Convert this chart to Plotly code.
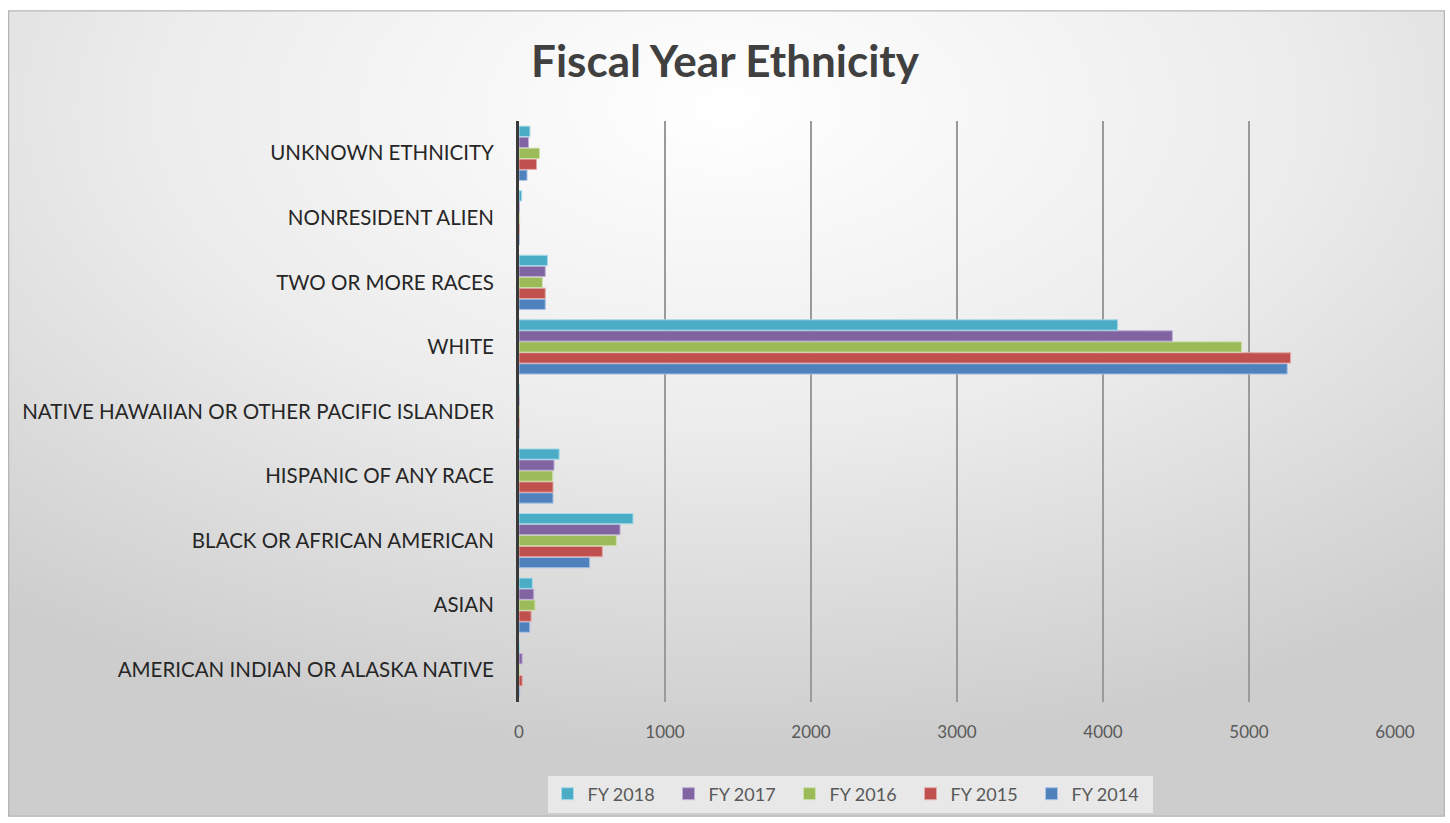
import base64
import plotly.graph_objects as go

categories = [
    "AMERICAN INDIAN OR ALASKA NATIVE",
    "ASIAN",
    "BLACK OR AFRICAN AMERICAN",
    "HISPANIC OF ANY RACE",
    "NATIVE HAWAIIAN OR OTHER PACIFIC ISLANDER",
    "WHITE",
    "TWO OR MORE RACES",
    "NONRESIDENT ALIEN",
    "UNKNOWN ETHNICITY",
]

fy2014 = [5, 74, 484, 233, 1, 5262, 180, 2, 55]
fy2015 = [22, 83, 571, 233, 1, 5285, 180, 3, 120]
fy2016 = [5, 110, 667, 231, 1, 4950, 160, 4, 140]
fy2017 = [22, 101, 692, 240, 1, 4475, 180, 3, 65]
fy2018 = [3, 92, 781, 275, 1, 4100, 195, 18, 75]

series_names = ["FY 2014", "FY 2015", "FY 2016", "FY 2017", "FY 2018"]
series_values = [fy2014, fy2015, fy2016, fy2017, fy2018]
colors = ["#4F81BD", "#C0504D", "#9BBB59", "#8064A2", "#4BACC6"]
edge_colors = ["#a9c2e6", "#e3a9a7", "#cfe0ae", "#bfb0d6", "#a6dbe8"]

x_ticks = [0, 1000, 2000, 3000, 4000, 5000, 6000]

fig = go.Figure()
for name, vals, c, ec in zip(series_names, series_values, colors, edge_colors):
    fig.add_trace(go.Bar(
        y=categories, x=vals, name=name, orientation="h",
        marker=dict(color=c, line=dict(color=ec, width=1)),
    ))

W, H = 1450, 823
ml, mr, mt, mb = 519, 55, 121, 120
pw, ph = W - ml - mr, H - mt - mb

svg = '''<svg xmlns="http://www.w3.org/2000/svg" width="1437" height="808" viewBox="0 0 1437 808" preserveAspectRatio="none">
<defs><radialGradient id="g" cx="50%" cy="12%" r="80%" fx="50%" fy="12%">
<stop offset="0%" stop-color="#ffffff"/><stop offset="50%" stop-color="#ececec"/><stop offset="100%" stop-color="#cdcdcd"/>
</radialGradient></defs>
<rect x="0.5" y="0.5" width="1436" height="807" fill="url(#g)" stroke="#b5b5b5" stroke-width="1.5"/>
</svg>'''
src = "data:image/svg+xml;base64," + base64.b64encode(svg.encode()).decode()

fx0, fy0 = 8, 10
fig.add_layout_image(dict(
    source=src, xref="paper", yref="paper",
    x=(fx0 - ml) / pw, y=(H - mb - fy0) / ph,
    sizex=1437 / pw, sizey=808 / ph,
    xanchor="left", yanchor="top", sizing="stretch", layer="below",
))

fig.update_layout(
    width=W, height=H,
    margin=dict(l=ml, r=mr, t=mt, b=mb),
    paper_bgcolor="white", plot_bgcolor="rgba(0,0,0,0)",
    barmode="group", bargap=0.15, bargroupgap=0.06,
    title=dict(text="<b>Fiscal Year Ethnicity</b>", x=0.5, xanchor="center",
               xref="container", y=1 - 62 / H, yanchor="middle",
               font=dict(family="Lato", size=44, color="#404040")),
    font=dict(family="Lato", color="#404040"),
    showlegend=True,
    legend=dict(orientation="h", traceorder="reversed", x=(850 - ml) / pw, xanchor="center",
                y=(H - mb - 794) / ph, yanchor="middle",
                bgcolor="rgba(236,236,236,0.85)", font=dict(size=18, color="#595959"),
                itemwidth=30, entrywidth=76, borderwidth=0),
    xaxis=dict(range=[0, 6000], tickvals=x_ticks, showgrid=True, gridcolor="#9a9a9a", gridwidth=2,
               zeroline=False, showline=False,
               tickfont=dict(size=17, color="#595959"), ticklabelstandoff=18),
    yaxis=dict(categoryorder="array", categoryarray=categories, showgrid=False,
               showline=True, linecolor="#3a3a3a", linewidth=3,
               tickfont=dict(size=20.5, color="#262626"), ticklabelstandoff=18, ticks=""),
)

fig.write_html("out.html", config={"displayModeBar": False},
               post_script="document.body.style.margin='0';document.body.style.padding='0';")
